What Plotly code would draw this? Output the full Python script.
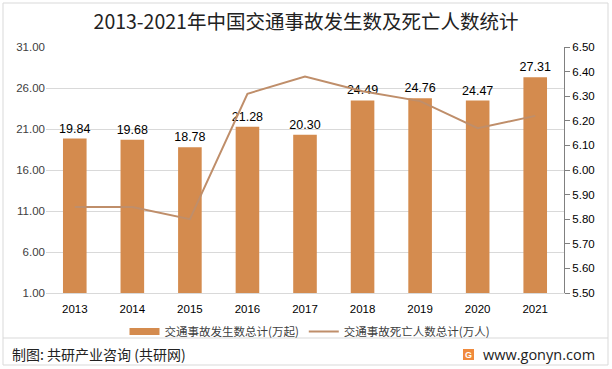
import plotly.graph_objects as go

years = ["2013", "2014", "2015", "2016", "2017", "2018", "2019", "2020", "2021"]
accidents = [19.84, 19.68, 18.78, 21.28, 20.30, 24.49, 24.76, 24.47, 27.31]
deaths = [5.85, 5.85, 5.80, 6.31, 6.38, 6.32, 6.28, 6.17, 6.22]
bar_name = "交通事故发生数总计(万起)"
line_name = "交通事故死亡人数总计(万人)"
title_text = "2013-2021年中国交通事故发生数及死亡人数统计"
left_ticks = [1, 6, 11, 16, 21, 26, 31]
right_ticks = [5.5, 5.6, 5.7, 5.8, 5.9, 6.0, 6.1, 6.2, 6.3, 6.4, 6.5]

font_fam = "Liberation Sans, Noto Sans CJK SC, sans-serif"
cjk = "Noto Sans CJK SC, sans-serif"
BAR_COLOR = "#D48B4E"
LINE_COLOR = "#BF8E6A"

# plot area in px: x 46..564, y 47..293
L, R, T, B = 46, 564, 47, 293
W, H = R - L, B - T


def px(x):
    return (x - L) / W


def py(y):
    return (B - y) / H


fig = go.Figure()
fig.add_trace(go.Bar(
    x=years, y=accidents, name=bar_name, showlegend=False,
    marker=dict(color=BAR_COLOR, line=dict(width=0)),
    text=[f"{v:.2f}" for v in accidents], textposition="outside",
    constraintext="none",
    textfont=dict(size=12.5, color="#000000", family=font_fam),
    cliponaxis=False,
))
# legend proxy for the bar series (wide flat swatch)
fig.add_trace(go.Scatter(
    x=[None], y=[None], name=bar_name, mode="lines",
    line=dict(color=BAR_COLOR, width=7),
))
fig.add_trace(go.Scatter(
    x=years, y=deaths, name=line_name, yaxis="y2", mode="lines",
    line=dict(color=LINE_COLOR, width=2),
))

fig.update_layout(
    width=612, height=369,
    margin=dict(l=L, r=612 - R, t=T, b=369 - B),
    paper_bgcolor="white", plot_bgcolor="white",
    bargap=0.59,
    showlegend=True,
    legend=dict(orientation="h", x=px(310), xanchor="center", y=py(317), yanchor="top",
                font=dict(size=11.5, color="#404040", family=cjk),
                tracegroupgap=0, bgcolor="rgba(0,0,0,0)"),
    title=dict(text=title_text, x=0.5, xanchor="center", y=1 - 22 / 369, yanchor="middle",
               font=dict(size=19.5, color="#222222", family=cjk)),
    xaxis=dict(showline=True, linecolor="#d9d9d9", linewidth=1, ticks="",
               ticklabelstandoff=5,
               tickfont=dict(size=11.5, color="#000000", family=font_fam)),
    yaxis=dict(range=[1, 31], tickvals=left_ticks, tickformat=".2f",
               showgrid=True, gridcolor="#d9d9d9", gridwidth=1, zeroline=False,
               showline=False, ticks="",
               tickfont=dict(size=11.5, color="#404040", family=font_fam)),
    yaxis2=dict(range=[5.5, 6.5], tickvals=right_ticks, tickformat=".2f",
                overlaying="y", side="right", showgrid=False, zeroline=False,
                showline=True, linecolor="#808080", linewidth=1,
                ticks="outside", ticklen=5, tickcolor="#808080",
                tickfont=dict(size=11.5, color="#000000", family=font_fam)),
    font=dict(family=font_fam),
)

fig.add_shape(type="rect", xref="paper", yref="paper",
              x0=px(3), x1=px(608), y0=py(365), y1=py(3),
              line=dict(color="#d9d9d9", width=1), fillcolor="rgba(0,0,0,0)", layer="below")
fig.add_shape(type="line", xref="paper", yref="paper",
              x0=px(3), x1=px(608), y0=py(338), y1=py(338),
              line=dict(color="#d9d9d9", width=1))
fig.add_annotation(xref="paper", yref="paper", x=px(10), y=py(354),
                   xanchor="left", yanchor="middle", showarrow=False,
                   text="制图: 共研产业咨询 (共研网)",
                   font=dict(size=14, color="#222222", family=cjk))
fig.add_annotation(xref="paper", yref="paper", x=px(597), y=py(354),
                   xanchor="right", yanchor="middle", showarrow=False,
                   text="www.gonyn.com",
                   font=dict(size=14.5, color="#222222", family="Open Sans, sans-serif"))
fig.add_shape(type="rect", xref="paper", yref="paper",
              x0=px(463), x1=px(474), y0=py(360), y1=py(349),
              line=dict(width=0), fillcolor="#F08A3C")
fig.add_annotation(xref="paper", yref="paper", x=px(468.5), y=py(354.5),
                   xanchor="center", yanchor="middle", showarrow=False,
                   text="<b>G</b>", font=dict(size=9, color="white", family=font_fam))

fig.write_html("out.html", post_script="document.body.style.margin='0';",
               config={"displayModeBar": False})
